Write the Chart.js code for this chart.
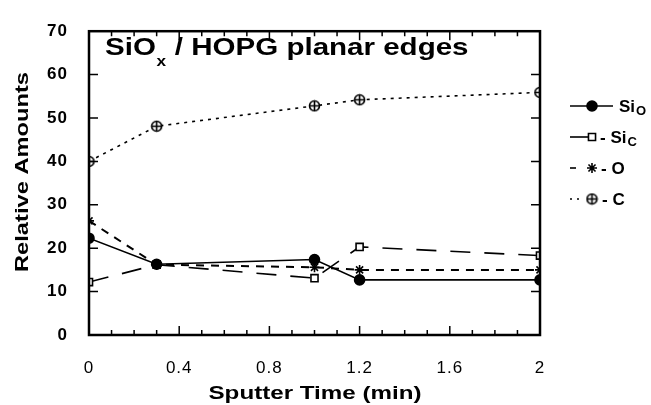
<!DOCTYPE html>
<html lang="en">
<head>
<meta charset="UTF-8">
<title>SiOx / HOPG planar edges</title>
<script src="https://cdn.jsdelivr.net/npm/chart.js"></script>
<style>
  body { margin: 0; background: #fff; }
  #wrap { width: 651px; height: 405px; }
</style>
</head>
<body>
<div id="wrap"><canvas id="chartCanvas" width="651" height="405"></canvas></div>
<script>
// sputter times (min)
const times = [0, 0.3, 1.0, 1.2, 2.0];
const siO = [22.3, 16.3, 17.4, 12.7, 12.7];
const siC = [12.2, 16.2, 13.1, 20.3, 18.3];
const oxy = [26.3, 16.2, 15.6, 15.0, 15.0];
const carb = [40, 48.1, 52.8, 54.2, 55.9];
const xTicks = [0, 0.4, 0.8, 1.2, 1.6, 2];
const yTicks = [0, 10, 20, 30, 40, 50, 60, 70];

const FONT = "'Liberation Sans', Arial, sans-serif";

// circle with a plus inside, for C
function plusCircle() {
    const c = document.createElement("canvas");
    c.width = 13; c.height = 13;
    const g = c.getContext("2d");
    g.fillStyle = "#fff";
    g.strokeStyle = "#000";
    g.lineWidth = 1.6;
    g.beginPath(); g.arc(6.5, 6.5, 5, 0, Math.PI * 2); g.fill(); g.stroke();
    g.beginPath();
    g.moveTo(1.5, 6.5); g.lineTo(11.5, 6.5);
    g.moveTo(6.5, 1.5); g.lineTo(6.5, 11.5);
    g.stroke();
    return c;
}
const cMarker = plusCircle();

function pts(ys) { return times.map((t, i) => ({ x: t, y: ys[i] })); }

const datasets = [
    { label: "Si", sub: "O", data: pts(siO), borderDash: [], pointStyle: "circle",
      pointRadius: 5, pointBackgroundColor: "#000", borderWidth: 1.6 },
    { label: "Si", sub: "C", data: pts(siC), borderDash: [20, 14], pointStyle: "rect",
      pointRadius: 5, pointBackgroundColor: "#fff", borderWidth: 1.6 },
    { label: "O", sub: "", data: pts(oxy), borderDash: [8, 7], pointStyle: "star",
      pointRadius: 5, pointBackgroundColor: "#000", borderWidth: 2 },
    { label: "C", sub: "", data: pts(carb), borderDash: [3, 5], pointStyle: cMarker,
      pointRadius: 6, pointBackgroundColor: "#fff", borderWidth: 1.6 }
].map(d => Object.assign({
    borderColor: "#000", pointBorderColor: "#000", pointBorderWidth: 1.6,
    showLine: true, tension: 0, fill: false
}, d));

// legend: line sample from x0 to x1, marker, then text
const legendRows = [
    { y: 106, x0: 570, x1: 613, dash: [], text: "Si", textX: 619 },
    { y: 137, x0: 570, x1: 588, dash: [], text: "- Si", textX: 600 },
    { y: 168, x0: 570, x1: 576, dash: [], text: "- O", textX: 601 },
    { y: 199, x0: 570, x1: 584, dash: [2, 5], text: "- C", textX: 602 }
];

// draw text stretched to a given width
function wideText(ctx, txt, x, y, width, rotate) {
    ctx.save();
    const k = width / ctx.measureText(txt).width;
    ctx.translate(x, y);
    if (rotate) ctx.rotate(-Math.PI / 2);
    ctx.scale(k, 1);
    ctx.textAlign = "center";
    ctx.fillText(txt, 0, 0);
    ctx.restore();
}

const spacing = {
    id: "spacing",
    beforeDraw(chart) { chart.ctx.letterSpacing = "1px"; }
};

const frame = {
    id: "frame",
    afterDatasetsDraw(chart) {
        const ctx = chart.ctx;
        const a = chart.chartArea;
        const xs = chart.scales.x, ys = chart.scales.y;
        ctx.save();
        ctx.letterSpacing = "0px";
        ctx.strokeStyle = "#000";
        ctx.lineWidth = 2.5;
        ctx.strokeRect(a.left, a.top, a.right - a.left, a.bottom - a.top);
        ctx.lineWidth = 1.5;
        // x ticks on bottom and top, minor every 0.1
        for (let i = 1; i < 20; i++) {
            const px = xs.getPixelForValue(i / 10);
            const len = (i % 4 === 0) ? 9 : 5;
            ctx.beginPath();
            ctx.moveTo(px, a.bottom); ctx.lineTo(px, a.bottom - len);
            ctx.moveTo(px, a.top); ctx.lineTo(px, a.top + len);
            ctx.stroke();
        }
        // y ticks on left and right
        yTicks.slice(1, -1).forEach(v => {
            const py = ys.getPixelForValue(v);
            ctx.beginPath();
            ctx.moveTo(a.left, py); ctx.lineTo(a.left + 9, py);
            ctx.moveTo(a.right, py); ctx.lineTo(a.right - 9, py);
            ctx.stroke();
        });

        ctx.fillStyle = "#000";
        ctx.textBaseline = "alphabetic";

        // title inside plot, a wide bold face
        const k = 1.23;
        ctx.save();
        ctx.translate(105, 55);
        ctx.scale(k, 1);
        ctx.font = "bold 24px " + FONT;
        ctx.fillText("SiO", 0, 0);
        let x = ctx.measureText("SiO").width;
        ctx.font = "bold 14px " + FONT;
        ctx.fillText("x", x + 0.5, 11);
        x += ctx.measureText("x").width + 1;
        ctx.font = "bold 24px " + FONT;
        ctx.fillText(" / HOPG planar edges", x, 0);
        ctx.restore();

        // axis titles
        ctx.font = "bold 19px " + FONT;
        wideText(ctx, "Sputter Time (min)", 315, 399, 213, false);
        wideText(ctx, "Relative Amounts", 28, 172, 200, true);

        // legend at the right
        datasets.forEach((d, i) => {
            const r = legendRows[i];
            ctx.save();
            ctx.lineWidth = 1.6;
            ctx.setLineDash(r.dash);
            ctx.beginPath();
            ctx.moveTo(r.x0, r.y); ctx.lineTo(r.x1, r.y);
            ctx.stroke();
            ctx.restore();
            ctx.fillStyle = d.pointBackgroundColor;
            ctx.strokeStyle = "#000";
            ctx.lineWidth = d.pointBorderWidth;
            Chart.helpers.drawPoint(ctx, {
                pointStyle: d.pointStyle, radius: d.pointRadius, rotation: 0,
                borderWidth: d.pointBorderWidth
            }, 592, r.y);
            ctx.fillStyle = "#000";
            ctx.font = "bold 17px " + FONT;
            ctx.fillText(r.text, r.textX, r.y + 6);
            if (d.sub) {
                const w = ctx.measureText(r.text).width;
                ctx.font = "bold 13px " + FONT;
                ctx.fillText(d.sub, r.textX + w + 1, r.y + 9);
            }
        });
        ctx.restore();
    }
};

const ctx = document.getElementById("chartCanvas").getContext("2d");

new Chart(ctx, {
    type: "scatter",
    data: { datasets: datasets },
    options: {
        responsive: false,
        animation: false,
        layout: { padding: { left: 0, right: 111, top: 21, bottom: 0 } },
        plugins: { legend: { display: false }, tooltip: { enabled: false } },
        scales: {
            x: {
                type: "linear", min: 0, max: 2,
                afterBuildTicks: s => { s.ticks = xTicks.map(v => ({ value: v })); },
                afterFit: s => { s.height = 70; },
                grid: { display: false, drawTicks: false },
                border: { display: false },
                ticks: { color: "#000", padding: 23, font: { family: FONT, size: 17 },
                         callback: v => String(v) }
            },
            y: {
                type: "linear", min: 0, max: 70,
                afterBuildTicks: s => { s.ticks = yTicks.map(v => ({ value: v })); },
                afterFit: s => { s.width = 89; },
                grid: { display: false, drawTicks: false },
                border: { display: false },
                ticks: { color: "#000", padding: 21, font: { family: FONT, size: 17, weight: "bold" } }
            }
        }
    },
    plugins: [spacing, frame]
});
</script>
</body>
</html>
